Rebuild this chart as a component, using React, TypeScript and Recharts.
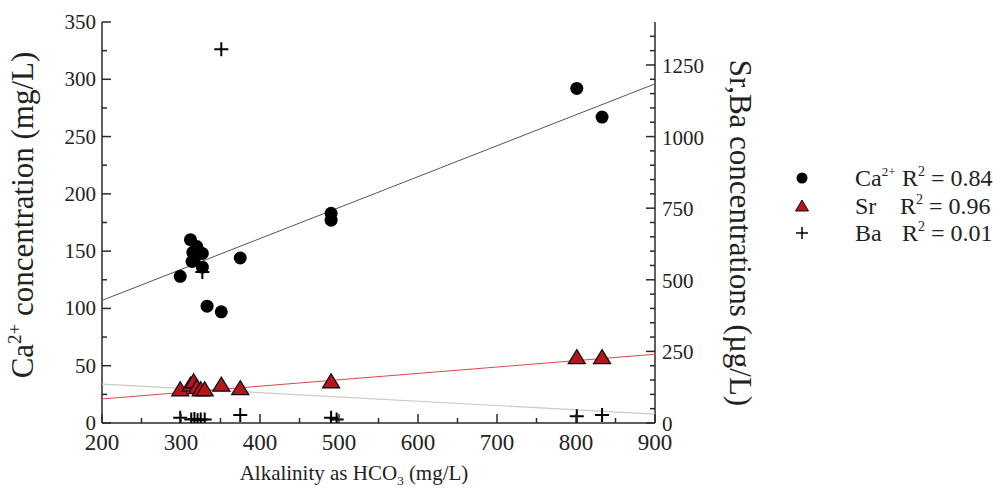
"use client";
import { ComposedChart, Scatter, XAxis, YAxis } from "recharts";

// Ca2+ samples: alkalinity (mg/L) vs Ca2+ (mg/L, left axis)
const caAlk = [299, 312, 315, 327, 314, 327, 320, 318, 322, 375, 333, 351, 490, 490, 801, 833];
const caConc = [128, 160, 149, 148, 141, 136, 154, 145, 150, 144, 102, 97, 183, 177, 292, 267];

// Sr samples (ug/L, right axis)
const srAlk = [299, 312, 316, 320, 325, 330, 351, 375, 490, 801, 833];
const srConc = [116, 132, 144, 124, 116, 116, 132, 120, 144, 228, 228];

// Ba samples (ug/L, right axis)
const baAlk = [299, 313, 317, 321, 325, 330, 375, 490, 497, 801, 833, 351, 327];
const baConc = [18, 12, 14, 10, 12, 12, 28, 18, 12, 24, 28, 1305, 527];

// regression lines, end points
const fitAlk = [200, 900];
const caFit = [107, 296];
const srFit = [84, 240];
const baFit = [136, 31];

const xTicks = [200, 250, 300, 350, 400, 450, 500, 550, 600, 650, 700, 750, 800, 850, 900];
const xLabels = [200, 300, 400, 500, 600, 700, 800, 900];
const leftTicks = [0, 25, 50, 75, 100, 125, 150, 175, 200, 225, 250, 275, 300, 325, 350];
const leftLabels = [0, 50, 100, 150, 200, 250, 300, 350];
const rightTicks = [0, 50, 100, 150, 200, 250, 300, 350, 400, 450, 500, 550, 600, 650, 700, 750,
    800, 850, 900, 950, 1000, 1050, 1100, 1150, 1200, 1250, 1300, 1350];
const rightLabels = [0, 250, 500, 750, 1000, 1250];

const pts = (xs: number[], ys: number[]) => xs.map((x, i) => ({ x, y: ys[i] }));

const serif = "'Liberation Serif', 'Times New Roman', serif";
const ink = "#2a2a2a";

function BottomTick(p: any) {
    const major = xLabels.includes(p.payload.value);
    return (
        <g>
            <line x1={p.x} y1={p.y} x2={p.x} y2={p.y - (major ? 9 : 5)} stroke={ink} strokeWidth={1.5} />
            {major && (
                <text x={p.x} y={p.y + 27} textAnchor="middle" fontFamily={serif} fontSize={23} fill="#222">
                    {p.payload.value}
                </text>
            )}
        </g>
    );
}

function TopTick(p: any) {
    const major = xLabels.includes(p.payload.value);
    return <line x1={p.x} y1={p.y} x2={p.x} y2={p.y + (major ? 9 : 5)} stroke={ink} strokeWidth={1.5} />;
}

function LeftTick(p: any) {
    const major = leftLabels.includes(p.payload.value);
    return (
        <g>
            <line x1={p.x} y1={p.y} x2={p.x + (major ? 9 : 5)} y2={p.y} stroke={ink} strokeWidth={1.5} />
            {major && (
                <text x={p.x - 6} y={p.y + 7} textAnchor="end" fontFamily={serif} fontSize={21} fill="#222">
                    {p.payload.value}
                </text>
            )}
        </g>
    );
}

function RightTick(p: any) {
    const major = rightLabels.includes(p.payload.value);
    return (
        <g>
            <line x1={p.x} y1={p.y} x2={p.x - (major ? 9 : 5)} y2={p.y} stroke={ink} strokeWidth={1.5} />
            {major && (
                <text x={p.x + 7} y={p.y + 8} textAnchor="start" fontFamily={serif} fontSize={21} fill="#222">
                    {p.payload.value}
                </text>
            )}
        </g>
    );
}

const Dot = (p: any) => <circle cx={p.cx} cy={p.cy} r={6.5} fill="#000" />;
const Tri = (p: any) => (
    <path d={`M${p.cx},${p.cy - 8}L${p.cx + 8.5},${p.cy + 6}L${p.cx - 8.5},${p.cy + 6}Z`}
        fill="#b3161c" stroke="#111" strokeWidth={1.3} />
);
const Plus = (p: any) => (
    <path d={`M${p.cx - 7},${p.cy}H${p.cx + 7}M${p.cx},${p.cy - 7}V${p.cy + 7}`} stroke="#000" strokeWidth={2} />
);
const NoDot = () => <g />;

const LeftTitle = () => (
    <text transform="translate(33,215) rotate(-90)" textAnchor="middle" fontFamily={serif} fontSize={31} fill="#222">
        Ca<tspan dy={-12} fontSize={19}>2+</tspan><tspan dy={12}> concentration (mg/L)</tspan>
    </text>
);

const RightTitle = () => (
    <text transform="translate(730,233) rotate(90)" textAnchor="middle" fontFamily={serif} fontSize={31} fill="#222">
        Sr,Ba concentrations (µg/L)
    </text>
);

const BottomTitle = () => (
    <text x={354} y={480} textAnchor="middle" fontFamily={serif} fontSize={21} fill="#222">
        Alkalinity as HCO<tspan dy={5} fontSize={13}>3</tspan><tspan dy={-5}> (mg/L)</tspan>
    </text>
);

function LegendBox() {
    const t = { fontFamily: serif, fontSize: 24, fill: "#222" };
    return (
        <svg width={1008} height={498} style={{ position: "absolute", left: 0, top: 0, pointerEvents: "none" }}>
            <circle cx={802} cy={178} r={5.5} fill="#000" />
            <text x={855} y={186} {...t}>Ca<tspan dy={-10} fontSize={13}>2+</tspan></text>
            <text x={902} y={186} {...t}>
                R<tspan dy={-10} fontSize={14}>2</tspan><tspan dy={10}> = 0.84</tspan>
            </text>
            <path d="M802,200L808.5,211L795.5,211Z" fill="#b3161c" stroke="#111" strokeWidth={1} />
            <text x={855} y={214} {...t}>Sr</text>
            <text x={900} y={214} {...t}>
                R<tspan dy={-10} fontSize={14}>2</tspan><tspan dy={10}> = 0.96</tspan>
            </text>
            <path d="M796,233H808M802,227V239" stroke="#000" strokeWidth={1.5} />
            <text x={855} y={241} {...t}>Ba</text>
            <text x={902} y={241} {...t}>
                R<tspan dy={-10} fontSize={14}>2</tspan><tspan dy={10}> = 0.01</tspan>
            </text>
        </svg>
    );
}

export default function App() {
    const axisLine = { stroke: ink, strokeWidth: 1.5 };
    return (
        <div style={{ position: "absolute", left: 0, top: 0, width: 1008, height: 498, background: "#fff" }}>
            <ComposedChart width={1008} height={498} margin={{ top: 22, right: 293, bottom: 35, left: 42 }}>
                <XAxis dataKey="x" type="number" domain={[200, 900]} ticks={xTicks} interval={0}
                    tickSize={0} tickMargin={0} tick={<BottomTick />} axisLine={axisLine} height={40}
                    allowDataOverflow label={<BottomTitle />} />
                <XAxis xAxisId="top" orientation="top" dataKey="x" type="number" domain={[200, 900]}
                    ticks={xTicks} interval={0} tickSize={0} tickMargin={0} tick={<TopTick />}
                    axisLine={axisLine} height={0} allowDataOverflow />
                <YAxis yAxisId="l" dataKey="y" type="number" domain={[0, 350]} ticks={leftTicks} interval={0}
                    tickSize={0} tickMargin={0} tick={<LeftTick />} axisLine={axisLine} width={60}
                    allowDataOverflow label={<LeftTitle />} />
                <YAxis yAxisId="r" orientation="right" dataKey="y" type="number" domain={[0, 1400]}
                    ticks={rightTicks} interval={0} tickSize={0} tickMargin={0} tick={<RightTick />}
                    axisLine={axisLine} width={60} allowDataOverflow label={<RightTitle />} />

                <Scatter yAxisId="r" data={pts(fitAlk, baFit)} line={{ stroke: "#c7ccbd", strokeWidth: 1.2 }}
                    shape={<NoDot />} isAnimationActive={false} />
                <Scatter yAxisId="r" data={pts(fitAlk, srFit)} line={{ stroke: "#e0464f", strokeWidth: 1 }}
                    shape={<NoDot />} isAnimationActive={false} />
                <Scatter yAxisId="l" data={pts(fitAlk, caFit)} line={{ stroke: "#555", strokeWidth: 1 }}
                    shape={<NoDot />} isAnimationActive={false} />

                <Scatter yAxisId="r" data={pts(srAlk, srConc)} shape={<Tri />} isAnimationActive={false} />
                <Scatter yAxisId="l" data={pts(caAlk, caConc)} shape={<Dot />} isAnimationActive={false} />
                <Scatter yAxisId="r" data={pts(baAlk, baConc)} shape={<Plus />} isAnimationActive={false} />
            </ComposedChart>
            <LegendBox />
        </div>
    );
}
